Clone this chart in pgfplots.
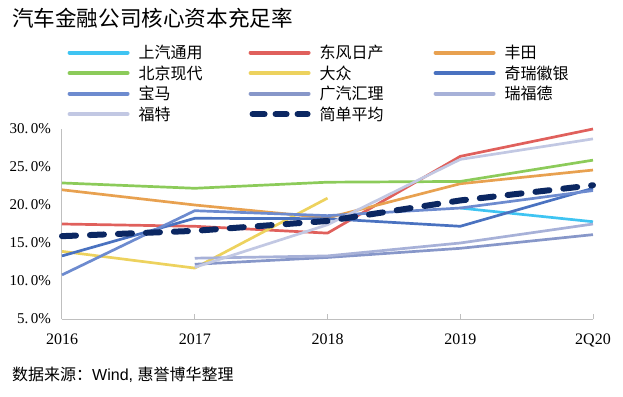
\documentclass[border=0pt]{standalone}
\usepackage{pgfplots}
\pgfplotsset{compat=1.18}
\usetikzlibrary{calc}
\usepackage{fontspec}
\setmainfont{Liberation Serif}
\newfontfamily\cjk{Noto Sans CJK SC}
\newfontfamily\sansf{Liberation Sans}
\definecolor{cSAIC}{HTML}{3FC4F2}
\definecolor{cDF}{HTML}{E0605C}
\definecolor{cTY}{HTML}{E8A150}
\definecolor{cBJ}{HTML}{8CCB5A}
\definecolor{cVW}{HTML}{EDD25E}
\definecolor{cQR}{HTML}{4A72C0}
\definecolor{cBMW}{HTML}{6D8BCF}
\definecolor{cGQ}{HTML}{8797C9}
\definecolor{cRF}{HTML}{A7B1D8}
\definecolor{cFD}{HTML}{C2C8E3}
\definecolor{cAVG}{HTML}{0B2762}
\definecolor{axisgray}{HTML}{BFBFBF}
\newcommand{\legtxt}[2]{\makebox[#1][l]{\hspace{8pt}#2}}
\begin{document}
\begin{tikzpicture}
\begin{axis}[
  name=ax,
  scale only axis, width=531pt, height=190pt,
  xmin=0, xmax=4, ymin=5, ymax=30,
  xtick={0,1,2,3,4}, xticklabels={2016,2017,2018,2019,2Q20},
  ytick={5,10,15,20,25,30},
  yticklabels={5.\,0\%,10.\,0\%,15.\,0\%,20.\,0\%,25.\,0\%,30.\,0\%},
  axis x line*=bottom, axis y line*=left,
  axis line style={draw=axisgray, line width=1pt},
  tick align=inside, major tick length=5pt,
  xtick style={draw=axisgray, line width=1pt},
  ytick style={draw=none},
  yticklabel style={font=\fontsize{15}{17}\selectfont, xshift=-7.5pt},
  xticklabel style={font=\fontsize{16}{18}\selectfont, yshift=-11pt},
  /pgf/number format/assume math mode=true,
  clip=false,
  legend columns=3,
  legend cell align=left,
  legend style={draw=none, fill=none, at={(0.0045,1.459)}, anchor=north west,
    font=\cjk\fontsize{16}{18}\selectfont, nodes={inner sep=1pt}, row sep=3.5pt,
    /tikz/every even column/.append style={column sep=0pt}},
  legend image code/.code={\draw[#1, line width=4pt, line cap=round] (2pt,0pt) -- (60pt,0pt);},
  every axis plot/.append style={line width=2.7pt, line join=round},
]
\addplot[cSAIC] coordinates {(3,19.6) (4,17.8)};
\addlegendentry{\legtxt{117pt}{上汽通用}}
\addplot[cDF] coordinates {(0,17.5) (1,17.2) (2,16.3) (3,26.4) (4,30.0)};
\addlegendentry{\legtxt{121pt}{东风日产}}
\addplot[cTY] coordinates {(0,22.0) (1,20.0) (2,18.3) (3,22.8) (4,24.6)};
\addlegendentry{\legtxt{80pt}{丰田}}
\addplot[cBJ] coordinates {(0,22.9) (1,22.2) (2,23.0) (3,23.1) (4,25.9)};
\addlegendentry{\legtxt{117pt}{北京现代}}
\addplot[cVW] coordinates {(0,13.9) (1,11.7) (2,20.9)};
\addlegendentry{\legtxt{121pt}{大众}}
\addplot[cQR] coordinates {(0,13.3) (1,18.25) (2,18.2) (3,17.2) (4,22.2)};
\addlegendentry{\legtxt{80pt}{奇瑞徽银}}
\addplot[cBMW] coordinates {(0,10.8) (1,19.25) (2,18.6) (3,19.6) (4,21.9)};
\addlegendentry{\legtxt{117pt}{宝马}}
\addplot[cGQ] coordinates {(1,12.2) (2,13.1) (3,14.3) (4,16.1)};
\addlegendentry{\legtxt{121pt}{广汽汇理}}
\addplot[cRF] coordinates {(1,13.0) (2,13.3) (3,15.0) (4,17.5)};
\addlegendentry{\legtxt{80pt}{瑞福德}}
\addplot[cFD] coordinates {(1,11.8) (2,17.4) (3,26.0) (4,28.7)};
\addlegendentry{\legtxt{117pt}{福特}}
\addplot[cAVG, line width=6pt, line cap=round, dash pattern=on 14pt off 14pt,
  legend image code/.code={\draw[cAVG, line width=6pt, line cap=round] (4pt,0pt) -- (16pt,0pt) (27pt,0pt) -- (38pt,0pt) (49pt,0pt) -- (59pt,0pt);}]
  coordinates {(0,15.9) (1,16.6) (2,17.9) (3,20.6) (4,22.6)};
\addlegendentry{\legtxt{121pt}{简单平均}}
\end{axis}
\coordinate (TL) at ($(ax.south west)+(-62pt,319pt)$);
\node[anchor=west, inner sep=0pt, font=\cjk\fontsize{21.6}{24}\selectfont] at ($(TL)+(12pt,-18pt)$) {汽车金融公司核心资本充足率};
\node[anchor=west, inner sep=0pt, font=\fontsize{16}{18}\selectfont] at ($(TL)+(12pt,-375pt)$) {\cjk 数据来源：\sansf Wind, \cjk 惠誉博华整理};
\pgfresetboundingbox
\path[use as bounding box] (TL) rectangle ($(TL)+(623pt,-396pt)$);
\end{tikzpicture}
\end{document}
